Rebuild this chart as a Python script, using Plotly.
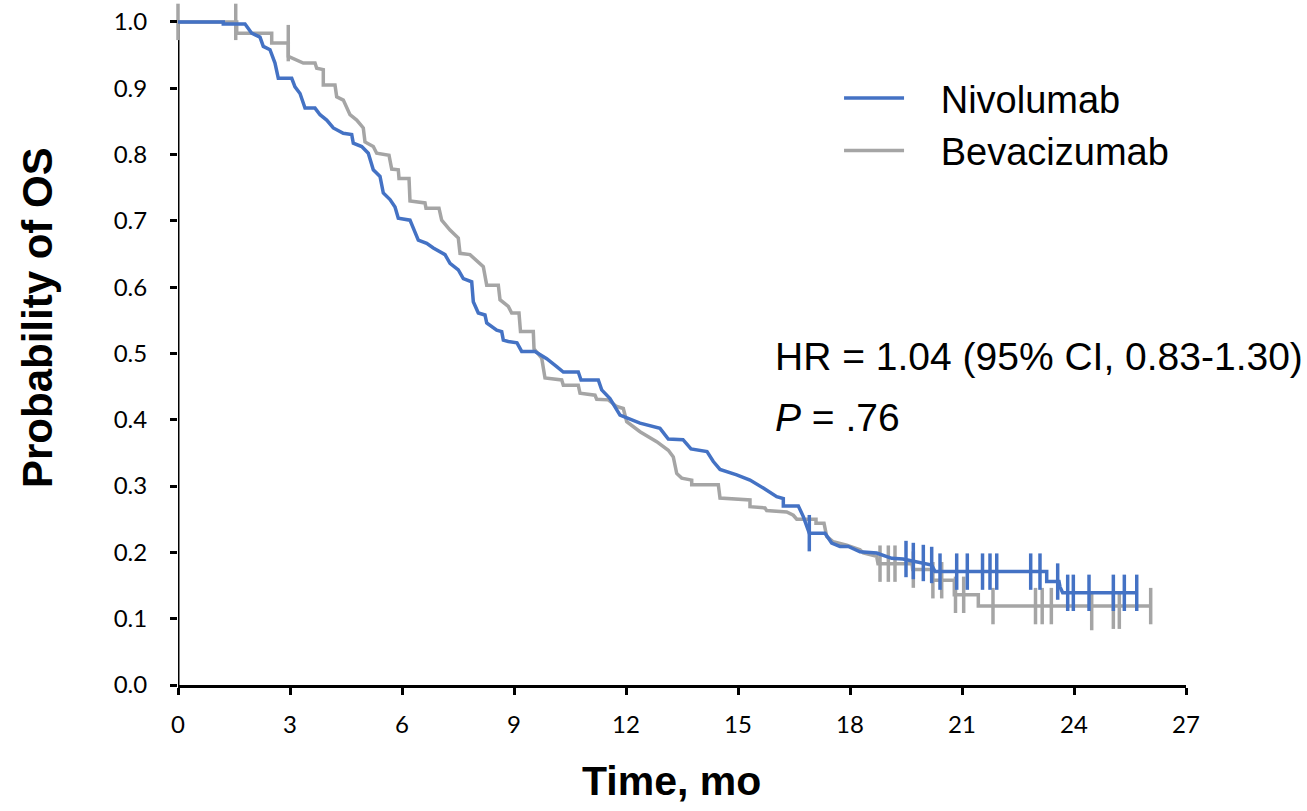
import plotly.graph_objects as go

# ---- data (time in months, probability of OS) ----
nivo_t = [0, 1.213, 1.213, 1.795, 1.974, 2.196, 2.285, 2.464, 2.598, 2.687,
          3.046, 3.134, 3.268, 3.402, 3.670, 3.804, 3.983, 4.160, 4.428, 4.653,
          4.696, 4.921, 5.097, 5.231, 5.411, 5.499, 5.679, 5.813, 5.901, 6.214,
          6.437, 6.662, 6.839, 7.152, 7.286, 7.508, 7.642, 7.867, 7.910, 8.044,
          8.223, 8.269, 8.537, 8.671, 8.714, 8.847, 9.080, 9.206, 9.563, 9.876,
          10.144, 10.321, 10.722, 10.795, 11.258, 11.349, 11.571, 11.839, 12.375, 12.911,
          13.133, 13.527, 13.741, 14.170, 14.339, 14.518, 14.965, 15.321, 15.678, 16.037,
          16.214, 16.214, 16.616, 16.749, 16.910, 17.331, 17.510, 17.732, 17.955, 18.180,
          18.268, 18.715, 19.117, 19.420, 19.875, 20.188, 20.277, 23.269, 23.269, 23.598,
          23.625, 23.697, 25.680]
nivo_s = [1.0, 1.0, 0.997, 0.997, 0.983, 0.977, 0.963, 0.958, 0.938, 0.915,
          0.915, 0.902, 0.892, 0.870, 0.870, 0.860, 0.852, 0.840, 0.832, 0.830,
          0.817, 0.812, 0.802, 0.777, 0.767, 0.742, 0.732, 0.721, 0.704, 0.701,
          0.671, 0.666, 0.659, 0.649, 0.636, 0.626, 0.613, 0.608, 0.578, 0.561,
          0.558, 0.546, 0.535, 0.533, 0.520, 0.518, 0.516, 0.503, 0.503, 0.492,
          0.480, 0.472, 0.472, 0.460, 0.460, 0.445, 0.432, 0.407, 0.395, 0.387,
          0.371, 0.370, 0.356, 0.352, 0.337, 0.325, 0.317, 0.309, 0.297, 0.284,
          0.281, 0.270, 0.270, 0.254, 0.229, 0.229, 0.214, 0.209, 0.209, 0.204,
          0.201, 0.199, 0.191, 0.190, 0.184, 0.181, 0.171, 0.171, 0.156, 0.156,
          0.148, 0.139, 0.139]

nivo_cens_t = [16.910, 19.500, 19.696, 19.964, 20.188, 20.411, 20.858, 21.142, 21.550, 21.750,
               21.930, 22.840, 23.089, 23.563, 23.831, 23.982, 24.402, 25.054, 25.348, 25.680]
nivo_cens_s = [0.229, 0.190, 0.187, 0.184, 0.181, 0.171, 0.171, 0.171, 0.171, 0.171,
               0.171, 0.171, 0.171, 0.156, 0.139, 0.139, 0.139, 0.139, 0.139, 0.139]

beva_t = [0, 1.572, 1.572, 2.510, 2.510, 2.954, 2.954, 3.180, 3.356, 3.670,
          3.715, 3.892, 3.892, 4.205, 4.251, 4.428, 4.607, 4.787, 4.963, 5.009,
          5.231, 5.322, 5.652, 5.724, 5.901, 5.920, 6.188, 6.214, 6.616, 6.643,
          6.991, 7.063, 7.286, 7.508, 7.554, 7.821, 8.178, 8.269, 8.580, 8.625,
          8.847, 8.938, 9.134, 9.174, 9.517, 9.536, 9.742, 9.830, 10.278, 10.321,
          10.722, 10.768, 11.170, 11.215, 11.526, 11.751, 11.928, 12.019, 12.375, 12.822,
          13.133, 13.267, 13.358, 13.492, 13.760, 13.760, 14.473, 14.518, 15.321, 15.321,
          15.723, 15.769, 16.305, 16.482, 16.573, 17.089, 17.089, 17.304, 17.331, 17.376,
          17.553, 17.912, 18.268, 18.357, 18.715, 18.750, 19.661, 19.679, 20.188, 20.188,
          20.794, 20.794, 21.437, 21.437, 26.054]
beva_s = [1.0, 1.0, 0.983, 0.983, 0.968, 0.968, 0.948, 0.943, 0.938, 0.938,
          0.930, 0.928, 0.905, 0.905, 0.887, 0.882, 0.860, 0.852, 0.840, 0.819,
          0.812, 0.802, 0.799, 0.778, 0.777, 0.764, 0.764, 0.730, 0.727, 0.719,
          0.719, 0.701, 0.686, 0.674, 0.651, 0.649, 0.631, 0.603, 0.603, 0.581,
          0.571, 0.561, 0.561, 0.533, 0.533, 0.507, 0.493, 0.463, 0.460, 0.452,
          0.452, 0.440, 0.437, 0.431, 0.430, 0.420, 0.417, 0.397, 0.382, 0.367,
          0.354, 0.344, 0.319, 0.312, 0.309, 0.302, 0.302, 0.282, 0.279, 0.269,
          0.267, 0.263, 0.261, 0.256, 0.250, 0.250, 0.244, 0.244, 0.234, 0.224,
          0.216, 0.211, 0.204, 0.199, 0.194, 0.183, 0.183, 0.174, 0.174, 0.158,
          0.158, 0.136, 0.136, 0.119, 0.119]

beva_cens_t = [0.0, 1.546, 2.954, 18.804, 19.027, 19.205, 19.696, 20.220, 20.456, 20.826,
               21.045, 21.830, 22.969, 23.148, 23.393, 24.474, 25.054, 25.214, 26.054]
beva_cens_s = [1.0, 1.0, 0.968, 0.183, 0.183, 0.183, 0.174, 0.158, 0.158, 0.136,
               0.136, 0.119, 0.119, 0.119, 0.119, 0.110, 0.112, 0.112, 0.119]

x_ticks = [0, 3, 6, 9, 12, 15, 18, 21, 24, 27]
y_ticks = [0.0, 0.1, 0.2, 0.3, 0.4, 0.5, 0.6, 0.7, 0.8, 0.9, 1.0]
y_ticktext = ["0.0", "0.1", "0.2", "0.3", "0.4", "0.5", "0.6", "0.7", "0.8", "0.9", "1.0"]

BLUE = "#4472C4"
GRAY = "#A5A5A5"
LW = 3.5
PAD = "\u00a0\u00a0\u00a0"

fig = go.Figure()
fig.add_trace(go.Scatter(x=beva_t, y=beva_s, mode="lines", name=PAD + "Bevacizumab",
                         line=dict(color=GRAY, width=LW), legendrank=2))
fig.add_trace(go.Scatter(x=beva_cens_t, y=beva_cens_s, mode="markers", showlegend=False,
                         marker=dict(symbol="line-ns", size=26, line=dict(color=GRAY, width=3.5)),
                         cliponaxis=False, hoverinfo="skip"))
fig.add_trace(go.Scatter(x=nivo_t, y=nivo_s, mode="lines", name=PAD + "Nivolumab",
                         line=dict(color=BLUE, width=LW), legendrank=1))
fig.add_trace(go.Scatter(x=nivo_cens_t, y=nivo_cens_s, mode="markers", showlegend=False,
                         marker=dict(symbol="line-ns", size=26, line=dict(color=BLUE, width=3.5)),
                         cliponaxis=False, hoverinfo="skip"))

tick_font = dict(family="Lato, Liberation Sans, Arial", size=24, color="black")

fig.update_layout(
    width=1307, height=811,
    margin=dict(l=178, r=121, t=2, b=126),
    paper_bgcolor="white", plot_bgcolor="white",
    showlegend=True,
    legend=dict(x=0.6558, y=0.905, xanchor="left", yanchor="top",
                font=dict(family="Liberation Sans, Arial", size=38, color="black"),
                bgcolor="rgba(0,0,0,0)", itemwidth=60, tracegroupgap=0),
    xaxis=dict(range=[0, 27], tickvals=x_ticks, ticks="outside", ticklen=7, tickwidth=3,
               tickcolor="black", showline=True, linecolor="black", linewidth=3,
               showgrid=False, zeroline=False, tickfont=tick_font, ticklabelstandoff=9),
    yaxis=dict(range=[0, 1.03], tickvals=y_ticks, ticktext=y_ticktext, ticks="outside",
               ticklen=7, tickwidth=3, tickcolor="black", showline=False,
               showgrid=False, zeroline=False, tickfont=tick_font, ticklabelstandoff=18),
)

# y-axis line from 0 to 1.0
fig.add_shape(type="line", xref="x", yref="y", x0=0, x1=0, y0=0, y1=1.0,
              line=dict(color="black", width=3), layer="below")

ann_font = dict(family="Liberation Sans, Arial", size=39, color="black")
fig.add_annotation(x=15.94, y=0.495, xref="x", yref="y", xanchor="left", yanchor="middle",
                   text="HR = 1.04 (95% CI, 0.83-1.30)", showarrow=False, font=ann_font)
fig.add_annotation(x=15.94, y=0.404, xref="x", yref="y", xanchor="left", yanchor="middle",
                   text="<i>P</i> = .76", showarrow=False, font=ann_font)

title_font = dict(family="Liberation Sans, Arial", size=41, color="black", weight="bold")
fig.add_annotation(x=0.4891, y=-0.1406, xref="paper", yref="paper", xanchor="center",
                   yanchor="middle", text="Time, mo", showarrow=False, font=title_font)
fig.add_annotation(x=-0.1389, y=0.5388, xref="paper", yref="paper", xanchor="center",
                   yanchor="middle", text="Probability of OS", textangle=-90,
                   showarrow=False, font=dict(family="Liberation Sans, Arial", size=42,
                                              color="black", weight="bold"))

fig.write_html("out.html")
